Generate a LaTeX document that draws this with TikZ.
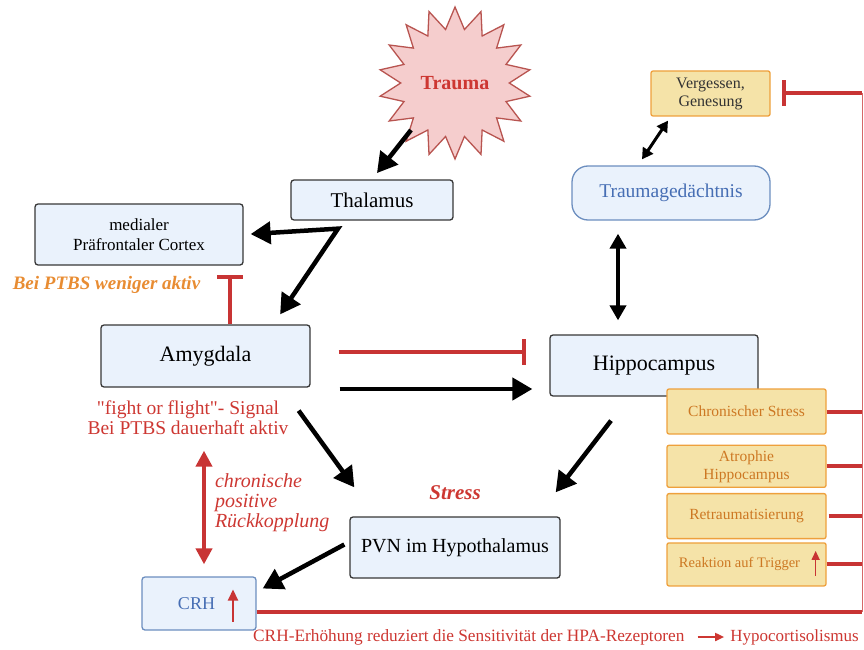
\documentclass[tikz,border=0pt]{standalone}
\usepackage{fontspec}
\setmainfont{Liberation Serif}
\usetikzlibrary{positioning}
\usetikzlibrary{calc}
\usetikzlibrary{arrows.meta}
\usetikzlibrary{shapes.geometric}
\definecolor{boxfill}{RGB}{234,242,252}
\definecolor{boxline}{RGB}{55,55,55}
\definecolor{memblue}{RGB}{108,142,191}
\definecolor{memtext}{RGB}{70,110,180}
\definecolor{inhred}{RGB}{200,52,52}
\definecolor{notered}{RGB}{205,55,50}
\definecolor{starfill}{RGB}{245,205,205}
\definecolor{starline}{RGB}{184,84,80}
\definecolor{yelfill}{RGB}{245,227,168}
\definecolor{yelline}{RGB}{238,160,60}
\definecolor{yeltext}{RGB}{205,120,35}
\definecolor{ptbsorange}{RGB}{232,140,50}

\begin{document}
\begin{tikzpicture}[
    x=1pt, y=-1pt,
    box/.style={rectangle, draw=boxline, line width=1.3pt, rounded corners=3pt, fill=boxfill, align=center, inner sep=0pt},
    membox/.style={box, draw=memblue, text=memtext},
    sidebox/.style={rectangle, draw=yelline, line width=1.3pt, rounded corners=2pt, fill=yelfill, text=yeltext, align=center, inner sep=0pt, minimum width=159pt, font=\fontsize{15.5}{18}\selectfont},
    arr/.style={line width=4.5pt, -{Triangle[length=20pt,width=22pt]}},
    dblarr/.style={line width=4pt, {Triangle[length=15pt,width=16pt]}-{Triangle[length=15pt,width=16pt]}},
    memarr/.style={line width=3pt, {Triangle[length=11pt,width=12pt]}-{Triangle[length=11pt,width=12pt]}},
    reddbl/.style={draw=inhred, line width=4pt, {Triangle[length=16pt,width=16pt]}-{Triangle[length=16pt,width=16pt]}},
    inhib/.style={draw=inhred, line width=4pt, -{Bar[width=26pt]}},
    redline/.style={draw=inhred, line width=4pt},
    uparr/.style={draw=inhred, -{Triangle[length=9pt,width=8pt]}},
    note/.style={inner sep=0pt, text=notered, font=\fontsize{19.5}{20}\selectfont, align=center},
]
    \useasboundingbox (0,0) rectangle (864,650);

    \node[star, star points=18, star point ratio=1.4, minimum size=152pt, inner sep=0pt, draw=starline, line width=1.3pt, fill=starfill, text=notered, font=\bfseries\fontsize{20}{24}\selectfont] (trauma) at (455,83) {Trauma};
    \node[box, minimum width=162pt, minimum height=40pt, font=\fontsize{21}{24}\selectfont] (thalamus) at (372,200) {Thalamus};
    \node[box, minimum width=208pt, minimum height=61pt, font=\fontsize{17}{20}\selectfont] (mpfc) at (139,234.5) {medialer\\Präfrontaler Cortex};
    \node[box, minimum width=209pt, minimum height=62pt, font=\fontsize{22}{24}\selectfont] (amygdala) at (205.5,356) {Amygdala};
    \node[box, minimum width=208pt, minimum height=61pt, font=\fontsize{22}{24}\selectfont] (hippo) at (654,365.5) {Hippocampus};
    \node[box, minimum width=210pt, minimum height=61pt, font=\fontsize{20}{24}\selectfont] (pvn) at (455,547.5) {PVN im Hypothalamus};
    \node[membox, minimum width=114pt, minimum height=53pt, font=\fontsize{18}{20}\selectfont] (crh) at (199,603.5) {CRH\hspace*{5pt}};
    \node[membox, rounded corners=16pt, minimum width=198pt, minimum height=54pt, font=\fontsize{19.5}{22}\selectfont] (traumag) at (671,193) {Traumagedächtnis};
    \node[sidebox, text=black!80, minimum width=119pt, minimum height=45pt, font=\fontsize{16}{18}\selectfont] (vergessen) at (710.5,93.5) {Vergessen,\\Genesung};

    % Folgen rechts
    \node[sidebox, minimum height=45pt] (chronic) at (746.5,411.5) {Chronischer Stress};
    \node[sidebox, minimum height=42pt, below=10pt of chronic] (atrophie) {Atrophie\\Hippocampus};
    \node[sidebox, minimum height=45pt, below=5pt of atrophie] (retrauma) {Retraumatisierung};
    \node[sidebox, minimum height=43pt, below=3pt of retrauma, font=\fontsize{14.5}{17}\selectfont] (reaktion) {Reaktion auf Trigger\hspace*{14pt}};
    \draw[uparr, line width=1.5pt] ([xshift=-11pt,yshift=-11.5pt]reaktion.east) -- ([xshift=-11pt,yshift=13.5pt]reaktion.east);
    \draw[uparr, line width=2.2pt, -{Triangle[length=11pt,width=10pt]}] ([xshift=34pt,yshift=-18pt]crh.center) -- ([xshift=34pt,yshift=14pt]crh.center);

    \coordinate (rtop) at (862,93);
    \coordinate (rbot) at (862,612);
    \draw[draw=inhred!75, line width=1pt] (rtop) -- (rbot);
    \draw[inhib, shorten >=11pt] (rtop) -- (vergessen.east |- rtop);
    \foreach \b in {chronic, atrophie, reaktion}
        \draw[redline] (\b.east) -- (\b.east -| rtop);
    \draw[redline, shorten <=2pt] (retrauma.east) -- (retrauma.east -| rtop);
    \draw[redline] (crh.east |- rbot) -- (rbot);

    % Signalwege
    \draw[arr, shorten >=8pt] ([xshift=-44pt,yshift=-47pt]trauma.center) -- (thalamus.north);
    \coordinate (thsplit) at ([xshift=-34pt,yshift=-8pt]thalamus.south);
    \draw[line width=4.5pt, {Triangle[length=20pt,width=22pt]}-{Triangle[length=20pt,width=22pt]}, shorten <=7pt, shorten >=12pt] (mpfc.east) -- (thsplit) -- (amygdala.25);
    \draw[inhib] ([xshift=24.5pt]amygdala.north) -- ([xshift=91pt,yshift=-9pt]mpfc.south);
    \draw[inhib] ([xshift=28pt,yshift=4pt]amygdala.east) -- ([xshift=-23pt,yshift=13.5pt]hippo.west);
    \draw[arr] ([xshift=29pt,yshift=-33pt]amygdala.east) -- ([xshift=-17pt,yshift=-23.5pt]hippo.west);
    \draw[arr] ([xshift=-12pt,yshift=-23pt]amygdala.south east) -- ([xshift=5pt,yshift=29pt]pvn.north west);
    \draw[arr] ([xshift=-43pt,yshift=-24pt]hippo.south) -- ([xshift=-5pt,yshift=24pt]pvn.north east);
    \draw[arr] ([xshift=-5pt,yshift=3pt]pvn.west) -- ([xshift=6pt,yshift=15pt]crh.east);
    \draw[dblarr] ([xshift=-53pt,yshift=-13pt]traumag.south) -- ([xshift=-36pt,yshift=14pt]hippo.north);
    \draw[memarr] ([xshift=-29pt,yshift=6pt]traumag.north) -- ([xshift=-42.5pt,yshift=-4pt]vergessen.south);
    \draw[reddbl] ([xshift=-1.5pt,yshift=-63pt]amygdala.south) -- node[note, pos=0.457, right=9pt, align=left, font=\itshape\fontsize{20}{20}\selectfont] (loop) {chronische\\positive\\Rückkopplung} ([xshift=5pt,yshift=12pt]crh.north);

    % Beschriftungen
    \node[note, text=ptbsorange, font=\bfseries\itshape\fontsize{19}{22}\selectfont] (ptbs) at (106.5,285) {Bei PTBS weniger aktiv};
    \node[note, below=13pt of amygdala, xshift=-17.5pt] (fight) {\textquotedbl fight or flight\textquotedbl- Signal\\Bei PTBS dauerhaft aktiv};
    \node[note, font=\bfseries\itshape\fontsize{21}{24}\selectfont, above=16pt of pvn] (stress) {Stress};
    \node[note, anchor=west, font=\fontsize{17.3}{20}\selectfont, text height=12pt, text depth=4pt] (crhnote) at (253,637) {CRH-Erhöhung reduziert die Sensitivität der HPA-Rezeptoren};
    \node[note, anchor=east, font=\fontsize{17}{20}\selectfont, text height=12pt, text depth=4pt] (hyponote) at (859,637) {Hypocortisolismus};
    \draw[draw=notered, line width=1.8pt, -{Triangle[length=9pt,width=8pt]}, shorten <=13pt, shorten >=6pt] (crhnote) -- (hyponote);
\end{tikzpicture}
\end{document}
